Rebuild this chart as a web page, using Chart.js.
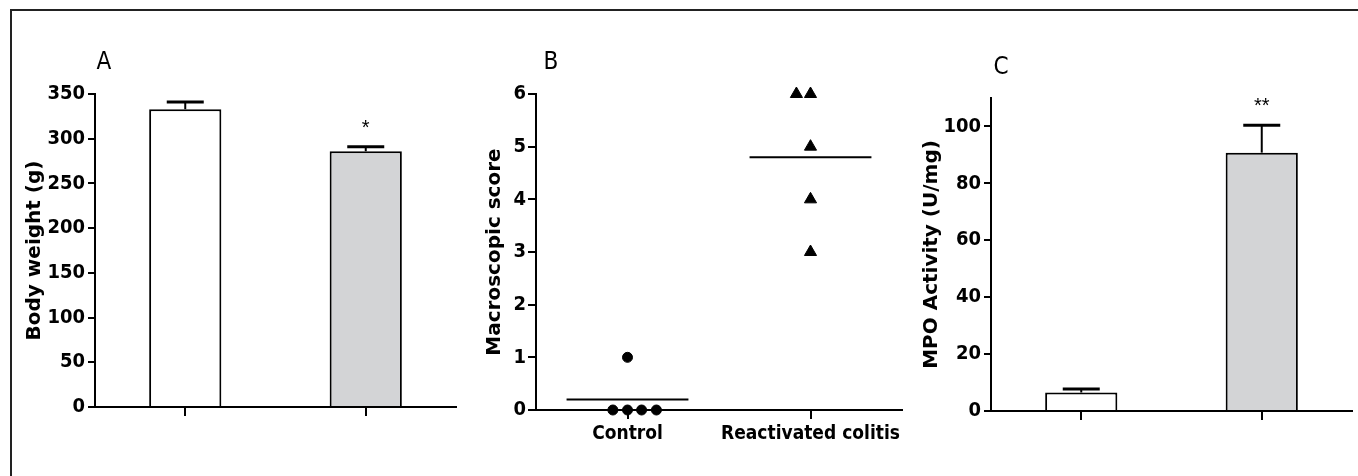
<!DOCTYPE html>
<html><head><meta charset="utf-8">
<script src="https://cdn.jsdelivr.net/npm/chart.js@4.4.1/dist/chart.umd.min.js"></script>
<style>
html,body{margin:0;padding:0;background:#fff;}
body{width:1358px;height:476px;position:relative;overflow:hidden;}
#frame{position:absolute;left:10px;top:9px;width:1400px;height:500px;border-left:2px solid #222;border-top:2px solid #222;}
canvas{position:absolute;top:0;}
</style></head><body>
<div id="frame"></div>
<canvas id="cA" width="470" height="476" style="left:0px"></canvas>
<canvas id="cB" width="445" height="476" style="left:470px"></canvas>
<canvas id="cC" width="443" height="476" style="left:915px"></canvas>
<script>
// ---- Data ----
const groups = ['Control', 'Reactivated colitis'];

// Panel A: body weight (g)
const weightMeans = [333, 286];
const weightSem = [8, 5];
const weightSig = ['', '*'];

// Panel B: macroscopic score (individual animals)
const controlScores = [1, 0, 0, 0, 0];
const controlJitter = [0, -0.08, 0, 0.077, 0.158];
const colitisScores = [6, 6, 5, 4, 3];
const colitisJitter = [-0.077, 0, 0, 0, 0];
const groupCenters = [0.5, 1.5];

// Panel C: MPO activity (U/mg)
const mpoMeans = [6.5, 90.8];
const mpoSem = [1.2, 9.6];
const mpoSig = ['', '**'];

const barFills = ['#ffffff', '#d3d4d6'];

// ---- Styling ----
const NARROW = '"DejaVu Sans Condensed", "Liberation Sans Narrow", sans-serif';
const WIDE = '"DejaVu Sans", "Liberation Sans", sans-serif';
Chart.defaults.color = '#000';

const tickFont = {family: NARROW, weight: 'bold', size: 20};
const catFont = {family: NARROW, weight: 'bold', size: 19};
const titleFont = {family: WIDE, weight: 'bold', size: 20};
const letterFont = '24px ' + NARROW;

const errorBarsPlugin = {
  id: 'errorBars',
  afterDatasetsDraw(chart, args, opts) {
    if (!opts || !opts.sem) return;
    const ctx = chart.ctx;
    const meta = chart.getDatasetMeta(0);
    const y = chart.scales.y;
    const data = chart.data.datasets[0].data;
    meta.data.forEach((bar, i) => {
      const top = y.getPixelForValue(data[i] + opts.sem[i]);
      ctx.save();
      ctx.strokeStyle = '#000';
      ctx.lineWidth = 2;
      ctx.beginPath(); ctx.moveTo(bar.x, bar.y); ctx.lineTo(bar.x, top); ctx.stroke();
      ctx.lineWidth = 3;
      ctx.beginPath(); ctx.moveTo(bar.x - 18.5, top); ctx.lineTo(bar.x + 18.5, top); ctx.stroke();
      if (opts.sig[i]) {
        ctx.fillStyle = '#000';
        ctx.font = '20px "Liberation Sans", Arial, sans-serif';
        ctx.textAlign = 'center';
        ctx.textBaseline = 'alphabetic';
        ctx.fillText(opts.sig[i], bar.x, top - 13);
      }
      ctx.restore();
    });
  }
};

const panelLetterPlugin = {
  id: 'panelLetter',
  afterDraw(chart, args, opts) {
    if (!opts || !opts.text) return;
    const ctx = chart.ctx;
    const a = chart.chartArea;
    ctx.save();
    ctx.fillStyle = '#000';
    ctx.font = letterFont;
    ctx.textAlign = 'center';
    ctx.textBaseline = 'middle';
    ctx.fillText(opts.text, a.left + opts.dx, a.top + opts.dy);
    ctx.restore();
  }
};

function yAxis(min, max, step, title, titlePad, width, tickLen, tickPad) {
  return {
    min: min, max: max,
    ticks: {stepSize: step, includeBounds: false, font: tickFont, color: '#000', padding: tickPad},
    grid: {drawOnChartArea: false, drawTicks: true, tickLength: tickLen, color: '#000', lineWidth: 2},
    border: {display: true, color: '#000', width: 2},
    title: {display: true, text: title, font: titleFont, color: '#000', padding: {top: titlePad, bottom: 0}},
    afterFit: s => { s.width = width; }
  };
}

function barChart(id, means, sem, sig, ymax, ystep, title, titlePad, yWidth, pad, xHeight, letter, tickLen, tickPad) {
  return new Chart(document.getElementById(id), {
    type: 'bar',
    data: {
      labels: groups,
      datasets: [{
        data: means,
        backgroundColor: barFills,
        borderColor: '#000',
        borderWidth: 2,
        barPercentage: 0.8,
        categoryPercentage: 0.5
      }]
    },
    options: {
      responsive: false, animation: false, events: [],
      layout: {padding: pad},
      plugins: {
        legend: {display: false}, tooltip: {enabled: false},
        errorBars: {sem: sem, sig: sig},
        panelLetter: letter
      },
      scales: {
        x: {
          offset: true,
          grid: {display: true, offset: false, drawOnChartArea: false, drawTicks: true, tickLength: 9, color: '#000', lineWidth: 2},
          border: {display: true, color: '#000', width: 2},
          ticks: {display: false},
          afterFit: s => { s.height = xHeight; }
        },
        y: yAxis(0, ymax, ystep, title, titlePad, yWidth, tickLen, tickPad)
      }
    },
    plugins: [errorBarsPlugin, panelLetterPlugin]
  });
}

barChart('cA', weightMeans, weightSem, weightSig, 350, 50, 'Body weight (g)', 23, 95,
  {left: 0, top: 94, right: 14, bottom: 0}, 69, {text: 'A', dx: 9, dy: -31}, 7, 3);

barChart('cC', mpoMeans, mpoSem, mpoSig, 110, 20, 'MPO Activity (U/mg)', 5, 76,
  {left: 0, top: 98, right: 6, bottom: 0}, 65, {text: 'C', dx: 10, dy: -30}, 7, 3);

// Panel B
const mean = arr => arr.reduce((s, v) => s + v, 0) / arr.length;
const halfLine = 0.333;
const controlMean = mean(controlScores);
const colitisMean = mean(colitisScores);

new Chart(document.getElementById('cB'), {
  type: 'scatter',
  data: {
    datasets: [
      {
        data: controlScores.map((v, i) => ({x: groupCenters[0] + controlJitter[i], y: v})),
        pointStyle: 'circle', pointRadius: 5, backgroundColor: '#000', borderColor: '#000', borderWidth: 1, clip: false
      },
      {
        data: colitisScores.map((v, i) => ({x: groupCenters[1] + colitisJitter[i], y: v})),
        pointStyle: 'triangle', pointRadius: 7, backgroundColor: '#000', borderColor: '#000', borderWidth: 1, clip: false
      },
      {
        data: [{x: groupCenters[0] - halfLine, y: controlMean}, {x: groupCenters[0] + halfLine, y: controlMean}],
        showLine: true, pointRadius: 0, borderColor: '#000', borderWidth: 2, clip: false
      },
      {
        data: [{x: groupCenters[1] - halfLine, y: colitisMean}, {x: groupCenters[1] + halfLine, y: colitisMean}],
        showLine: true, pointRadius: 0, borderColor: '#000', borderWidth: 2, clip: false
      }
    ]
  },
  options: {
    responsive: false, animation: false, events: [],
    layout: {padding: {left: 0, top: 94, right: 13, bottom: 0}},
    plugins: {
      legend: {display: false}, tooltip: {enabled: false},
      panelLetter: {text: 'B', dx: 15, dy: -31}
    },
    scales: {
      x: {
        type: 'linear', min: 0, max: 2,
        afterBuildTicks: s => { s.ticks = groupCenters.map(v => ({value: v})); },
        ticks: {callback: (v, i) => groups[i], autoSkip: false, maxRotation: 0, font: catFont, color: '#000', padding: 4},
        grid: {drawOnChartArea: false, drawTicks: true, tickLength: 9, color: '#000', lineWidth: 2},
        border: {display: true, color: '#000', width: 2},
        afterFit: s => { s.height = 66; }
      },
      y: yAxis(0, 6, 1, 'Macroscopic score', 13, 66, 8, 2)
    }
  },
  plugins: [panelLetterPlugin]
});
</script>
</body></html>
